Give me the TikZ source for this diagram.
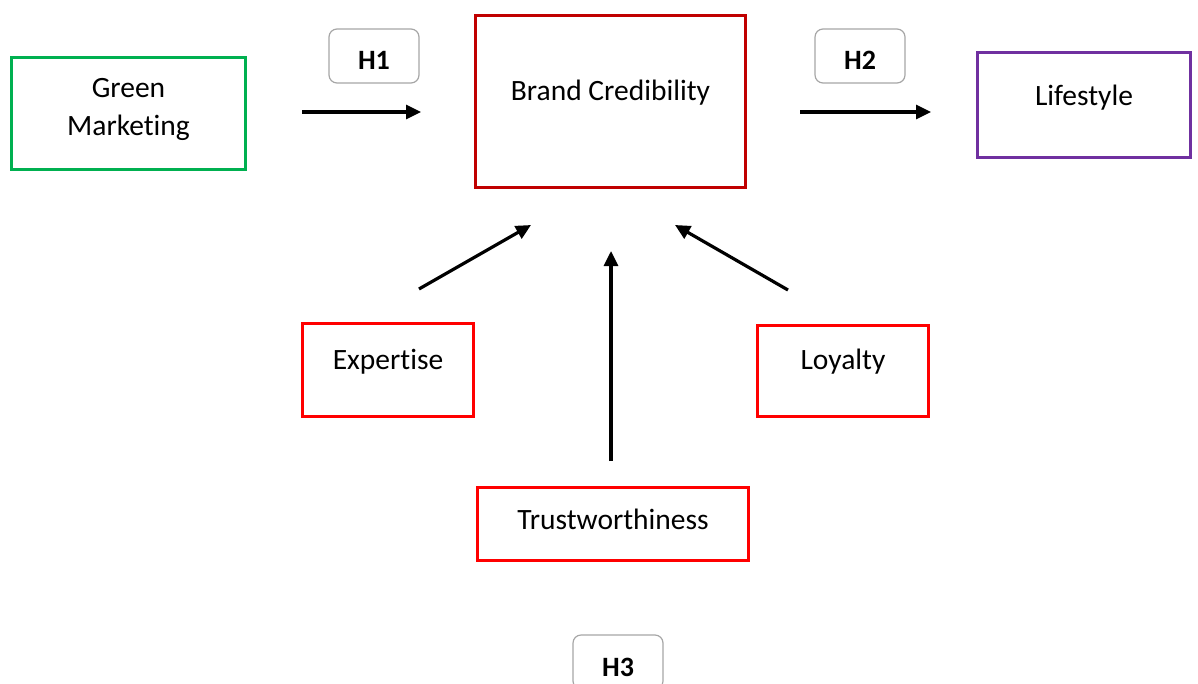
\documentclass[tikz,border=0pt]{standalone}
\usepackage{fontspec}
\setmainfont{Carlito}[Ligatures=NoCommon]
\usetikzlibrary{arrows.meta}
\definecolor{gmgreen}{HTML}{00B050}
\definecolor{bcred}{HTML}{C00000}
\definecolor{lspurple}{HTML}{7030A0}
\definecolor{dimred}{HTML}{FF0000}
\definecolor{tagline}{HTML}{A6A6A6}
\tikzset{
  frame/.style={draw, line width=3pt, inner sep=0pt, fill=white},
  caption/.style={font=\fontsize{29.5}{38}\selectfont, align=center, inner sep=0pt},
  % text height above depth pushes the label a little below the middle
  hyptag/.style={draw=tagline, line width=1.2pt, rounded corners=8pt,
    minimum width=90pt, minimum height=54pt, inner sep=0pt,
    text height=26pt, text depth=0pt,
    font=\fontsize{28}{32}\selectfont\bfseries},
  link/.style={line width=3.2pt, -{Triangle[length=15pt,width=14pt]}}
}
\begin{document}
\begin{tikzpicture}[x=1pt,y=-1pt]
\useasboundingbox (0,0) rectangle (1198,683);

% main constructs
\node[frame, draw=gmgreen, minimum width=234pt, minimum height=112pt] (gm) at (128.5,113.5) {};
\node[caption] (gmtext) at (128.5,109.5) {Green\\Marketing};

\node[frame, draw=bcred, minimum width=270pt, minimum height=172pt] (bc) at (610.5,101.5) {};
\node[caption] (bctext) at (610.5,93) {Brand Credibility};

\node[frame, draw=lspurple, minimum width=213pt, minimum height=105pt] (ls) at (1084,105) {};
\node[caption] (lstext) at (1084,98) {Lifestyle};

% dimensions of credibility
\node[frame, draw=dimred, minimum width=171pt, minimum height=93pt] (ex) at (388,370) {};
\node[caption] (extext) at (388,362) {Expertise};

\node[frame, draw=dimred, minimum width=171pt, minimum height=91pt] (lo) at (843,371) {};
\node[caption] (lotext) at (843,362) {Loyalty};

\node[frame, draw=dimred, minimum width=271pt, minimum height=73pt] (tw) at (613,524) {};
\node[caption] (twtext) at (613,519) {Trustworthiness};

% hypothesis tags
\node[hyptag] (h1) at (374,56) {H1};
\node[hyptag] (h2) at (860,56) {H2};
\node[hyptag, text height=28pt] (h3) at (618,662) {H3};

% arrow end points
\coordinate (a1s) at (302,112);
\coordinate (a1e) at (421,112);
\coordinate (a2s) at (800,112);
\coordinate (a2e) at (931,112);
\coordinate (exs) at (419,289);
\coordinate (exe) at (531,225);
\coordinate (tws) at (611,461);
\coordinate (twe) at (611,251);
\coordinate (los) at (788,290);
\coordinate (loe) at (675,225);

\draw[link] (a1s) -- (a1e);
\draw[link] (a2s) -- (a2e);
\draw[link] (exs) -- (exe);
\draw[link] (tws) -- (twe);
\draw[link] (los) -- (loe);
\end{tikzpicture}
\end{document}
